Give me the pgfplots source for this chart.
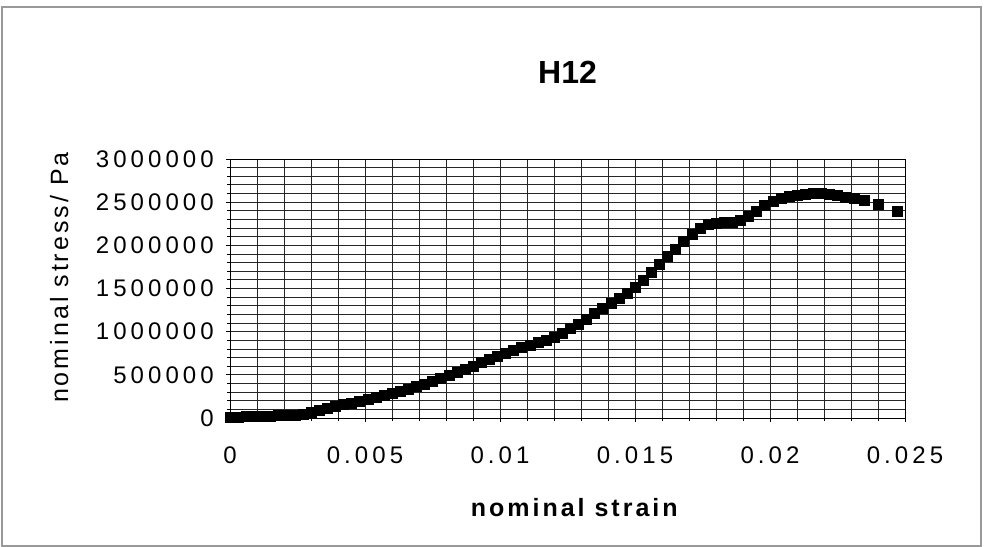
\documentclass[border=0pt]{standalone}
\usepackage{pgfplots}
\pgfplotsset{compat=1.18}
\usepackage{fontspec}
\setmainfont{Liberation Sans}
\newfontfamily\tickfont[LetterSpace=17]{Liberation Sans}
\newfontfamily\ylabfont[LetterSpace=12]{Liberation Sans}
\newfontfamily\xlabfont[LetterSpace=12]{Liberation Sans}

\pgfplotstableread{
strain stress
0.0000 15000
0.0003 15000
0.0006 18000
0.0009 20000
0.0012 22000
0.0015 25000
0.0018 28000
0.0021 32000
0.0024 38000
0.0027 48000
0.0030 62000
0.0033 85000
0.0036 110000
0.0039 135000
0.0042 155000
0.0045 175000
0.0048 195000
0.0051 215000
0.0054 238000
0.0057 262000
0.0060 285000
0.0063 310000
0.0066 338000
0.0069 365000
0.0072 395000
0.0075 425000
0.0078 458000
0.0081 492000
0.0084 528000
0.0087 565000
0.0090 605000
0.0093 645000
0.0096 685000
0.0099 720000
0.0102 755000
0.0105 785000
0.0108 815000
0.0111 845000
0.0114 875000
0.0117 905000
0.0120 940000
0.0123 985000
0.0126 1035000
0.0129 1090000
0.0132 1150000
0.0135 1210000
0.0138 1270000
0.0141 1330000
0.0144 1390000
0.0147 1450000
0.0150 1520000
0.0153 1600000
0.0156 1690000
0.0159 1780000
0.0162 1870000
0.0165 1960000
0.0168 2050000
0.0171 2130000
0.0174 2200000
0.0177 2240000
0.0180 2260000
0.0183 2265000
0.0186 2270000
0.0189 2290000
0.0192 2340000
0.0195 2400000
0.0198 2460000
0.0201 2510000
0.0204 2550000
0.0207 2570000
0.0210 2585000
0.0213 2595000
0.0216 2600000
0.0219 2600000
0.0222 2590000
0.0225 2575000
0.0228 2560000
0.0231 2545000
0.0235 2525000
0.0240 2475000
0.0247 2390000
}\hdata

\begin{document}
\begin{tikzpicture}
\useasboundingbox (0bp,0bp) rectangle (989bp,547bp);
\draw[black!40, line width=1.2bp] (2bp,1bp) rectangle (981bp,540bp);
\begin{axis}[
    at={(230bp,129bp)}, anchor=south west,
    scale only axis,
    width=675bp, height=259bp,
    xmin=0, xmax=0.025,
    ymin=0, ymax=3000000,
    xtick={0,0.005,0.01,0.015,0.02,0.025},
    xticklabels={0,0.005,0.01,0.015,0.02,0.025},
    ytick={0,500000,1000000,1500000,2000000,2500000,3000000},
    yticklabels={0,500000,1000000,1500000,2000000,2500000,3000000},
    minor x tick num=4,
    minor y tick num=4,
    scaled x ticks=false, scaled y ticks=false,
    grid=both,
    major grid style={black!85, line width=0.8bp},
    minor grid style={black!85, line width=0.8bp},
    axis line style={black, line width=0.9bp},
    tick align=outside,
    major tick length=4bp, minor tick length=3bp,
    xtick pos=bottom, ytick pos=left,
    tick style={black, line width=0.8bp},
    yticklabel style={font=\tickfont\fontsize{24bp}{25bp}\selectfont, inner sep=0pt, anchor=east, xshift=-12bp},
    xticklabel style={font=\tickfont\fontsize{24bp}{25bp}\selectfont, inner sep=0pt, anchor=north, yshift=-25bp},
    title={H12},
    title style={at={(0.5,1.313)}, anchor=center, font=\bfseries\fontsize{32bp}{32bp}\selectfont},
    xlabel={nominal strain},
    xlabel style={at={(0.51,-0.347)}, anchor=center, font=\xlabfont\bfseries\fontsize{25bp}{26bp}\selectfont},
    ylabel={nominal stress/ Pa},
    ylabel style={at={(-0.253,0.542)}, anchor=center, rotate=0, font=\ylabfont\fontsize{25bp}{26bp}\selectfont},
]
\addplot[only marks, mark=square*, mark size=5bp, black] table[x=strain, y=stress] {\hdata};
\end{axis}
\end{tikzpicture}
\end{document}
